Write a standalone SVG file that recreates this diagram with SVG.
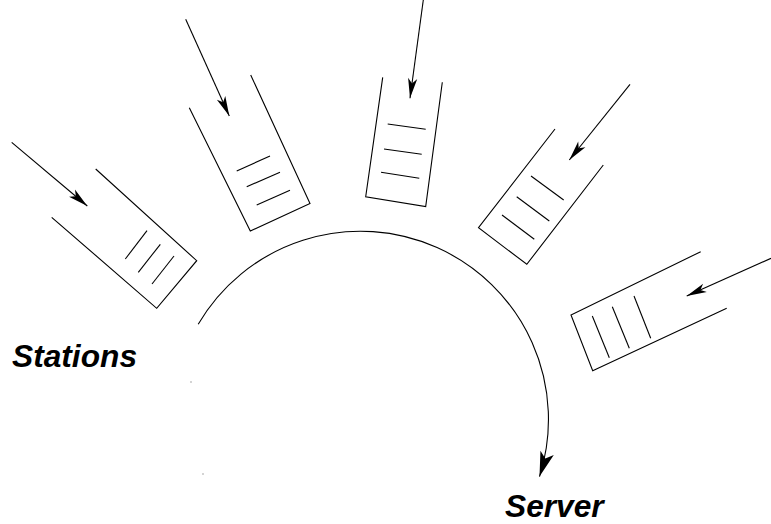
<svg xmlns="http://www.w3.org/2000/svg" width="771" height="524" viewBox="0 0 771 524">
<style>
.ln{fill:none;stroke:#000;stroke-width:1.1;stroke-linecap:butt;stroke-linejoin:miter}
.lbl{font-family:"Liberation Sans",Arial,sans-serif;font-weight:bold;font-style:italic;font-size:31.7px;fill:#000}
</style>
<defs>
<marker id="ah" viewBox="-22 -8 24 16" refX="0" refY="0" markerWidth="24" markerHeight="16" markerUnits="userSpaceOnUse" orient="auto">
<path d="M0,0 L-20,-4.6 L-15,0 L-20,4.6 Z" fill="#000"/>
</marker>
<marker id="ahBig" viewBox="-27 -9 29 18" refX="0" refY="0" markerWidth="29" markerHeight="18" markerUnits="userSpaceOnUse" orient="auto">
<path d="M0,0 L-25,-7 L-19,0 L-25,7 Z" fill="#000"/>
</marker>
</defs>
<rect width="771" height="524" fill="#fff"/>
<g id="station1">
<polyline class="ln" points="95.7,169 196.7,260.7 156.7,308.3 51.7,217.3"/>
<line class="ln" x1="125.3" y1="259" x2="147" y2="230.7"/>
<line class="ln" x1="138.3" y1="272.3" x2="160.3" y2="244.3"/>
<line class="ln" x1="152" y1="284" x2="174" y2="256"/>
</g>
<g id="station2">
<polyline class="ln" points="250.7,75 310,203.5 250.3,231 189.3,107.7"/>
<line class="ln" x1="236.7" y1="171" x2="270" y2="156"/>
<line class="ln" x1="246.7" y1="186.7" x2="280" y2="172.3"/>
<line class="ln" x1="256.7" y1="205" x2="290" y2="190.3"/>
</g>
<g id="station3">
<polyline class="ln" points="442.3,82.3 425.7,206.5 365.7,196.7 382.7,77.3"/>
<line class="ln" x1="387.7" y1="124" x2="425.7" y2="129.3"/>
<line class="ln" x1="384" y1="149" x2="421.7" y2="154.3"/>
<line class="ln" x1="381" y1="172.3" x2="419.3" y2="178.3"/>
</g>
<g id="station4">
<polyline class="ln" points="555,129 478.5,227.7 526.8,264.3 603.3,165"/>
<line class="ln" x1="531" y1="176" x2="563.7" y2="200"/>
<line class="ln" x1="516.7" y1="196.7" x2="549.3" y2="221"/>
<line class="ln" x1="502" y1="215" x2="534.3" y2="239.3"/>
</g>
<g id="station5">
<polyline class="ln" points="700.7,251.7 571,315 592.7,370.7 726.7,308.3"/>
<line class="ln" x1="592.3" y1="316" x2="609.3" y2="357.7"/>
<line class="ln" x1="612.3" y1="306.7" x2="629.3" y2="348.3"/>
<line class="ln" x1="634" y1="296" x2="650.7" y2="338.3"/>
</g>
<g id="server">
<text class="lbl" x="505" y="517">Server</text>
</g>
<g id="stations-label">
<text class="lbl" x="12" y="367">Stations</text>
</g>
<g id="connectors">
<line class="ln" x1="11.7" y1="142.3" x2="87.3" y2="206" marker-end="url(#ah)"/>
<line class="ln" x1="185.7" y1="19.3" x2="229.3" y2="116" marker-end="url(#ah)"/>
<line class="ln" x1="423.3" y1="0" x2="410" y2="98.3" marker-end="url(#ah)"/>
<line class="ln" x1="630" y1="84.3" x2="569.3" y2="160" marker-end="url(#ah)"/>
<line class="ln" x1="771" y1="258.3" x2="686.7" y2="296" marker-end="url(#ah)"/>
<path class="ln" d="M198.2,324.3 A188,188 0 0,1 539.5,476.6" marker-end="url(#ahBig)"/>
</g>
<rect x="190.5" y="381.5" width="1" height="1" fill="#555"/>
<rect x="202.5" y="473.5" width="1" height="1" fill="#555"/>
</svg>
